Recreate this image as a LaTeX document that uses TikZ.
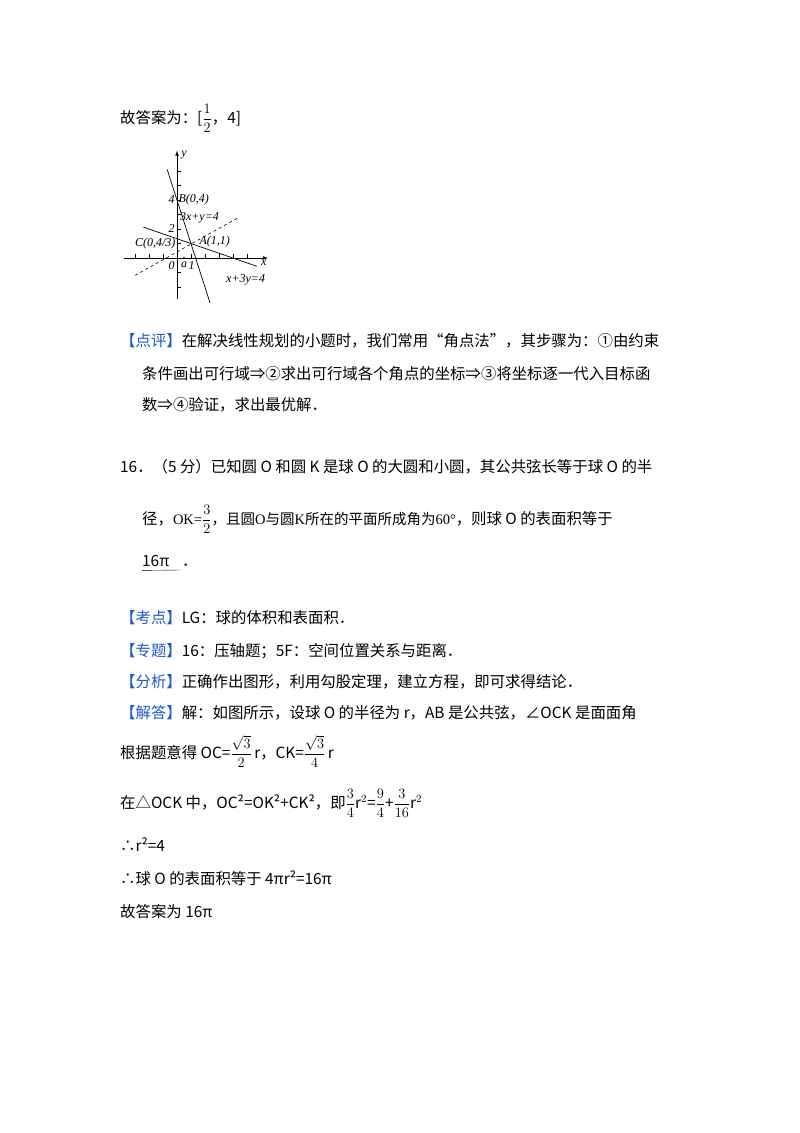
\documentclass[tikz,border=0pt]{standalone}
\usepackage{fontspec}
\setmainfont{Noto Sans CJK SC}
\newfontfamily\tms{Liberation Serif}
\usetikzlibrary{arrows.meta}
\definecolor{bl}{RGB}{30,90,200}
\newcommand{\bk}[1]{\textcolor{bl}{【#1】}}
\newcommand{\df}[2]{$\displaystyle\frac{#1}{#2}$}
\begin{document}
\begin{tikzpicture}[x=1pt,y=-1pt,
  tx/.style={anchor=base west,inner sep=0pt,font=\fontsize{15.4}{18}\selectfont},
  gl/.style={font=\tms\itshape\fontsize{12}{13}\selectfont,inner sep=0pt},
  ax/.style={line width=0.6pt}]
\useasboundingbox (0,0) rectangle (800,1133);
\fill[white] (0,0) rectangle (800,1133);
\node[tx] (t1) at (120,123) {故答案为：[\df{1}{2}，4]};
% graph
\begin{scope}[shift={(177,258)},x=14pt,y=14.5pt]
\draw[ax,-{Latex[length=5pt]}] (-3.8,0) -- (6.5,0) coordinate (xe);
\draw[ax,-{Latex[length=5pt]}] (0,-2.8) -- (0,7.4) coordinate (ye);
\foreach \i in {-3,...,5} \draw[ax] (\i,0) -- (\i,0.25);
\foreach \j in {-2,...,6} \draw[ax] (0,\j) -- (0.25,\j);
\draw[line width=0.7pt] (-0.7,6.1) -- (2.36,-3.1);
\draw[line width=0.7pt] (-2.4,2.13) -- (5.7,-0.57);
\draw[dashed,line width=0.6pt] (-3,-1.2) -- (4.4,2.8);
\fill (0.5,0) circle (1.2pt);
\node[gl,anchor=west] (ylab) at (0.3,7.1) {y};
\node[gl,anchor=north] (xlab) at (6.2,-0.1) {x};
\node[gl,anchor=east] (l4) at (-0.15,4) {4};
\node[gl,anchor=east] (l2) at (-0.15,2) {2};
\node[gl,anchor=north east] (l0) at (-0.15,-0.25) {0};
\node[gl,anchor=north] (la) at (0.5,-0.25) {a};
\node[gl,anchor=north] (l1) at (1.05,-0.25) {1};
\node[gl,anchor=west] (B) at (0.1,4) {B(0,4)};
\node[gl,anchor=west] (e1) at (0.2,2.75) {3x+y=4};
\node[gl,anchor=east] (C) at (-0.1,1.0) {C(0,4/3)};
\node[gl,anchor=west] (A) at (1.6,1.1) {A(1,1)};
\node[gl,anchor=west] (e2) at (3.5,-1.5) {x+3y=4};
\end{scope}
\node[tx] (p1) at (120,346) {\bk{点评}在解决线性规划的小题时，我们常用“角点法”，其步骤为：①由约束};
\node[tx] (p2) at (142,379) {条件画出可行域⇒②求出可行域各个角点的坐标⇒③将坐标逐一代入目标函};
\node[tx] (p3) at (142,410) {数⇒④验证，求出最优解．};
\node[tx] (q1) at (120,472) {16．（5 分）已知圆 O 和圆 K 是球 O 的大圆和小圆，其公共弦长等于球 O 的半};
\node[tx] (q2) at (142,524) {径，{\fontsize{14.5}{16}\selectfont{\tms OK=}\df{3}{2}，且圆{\tms O}与圆{\tms K}所在的平面所成角为{\tms 60°}}，则球 O 的表面积等于};
\node[tx] (q3) at (142,566) {16π};
\draw (q3.south west) ++(0,4) -- (180,570);
\node[tx] at (182,566) {．};
\node[tx] (k1) at (120,623) {\bk{考点}LG：球的体积和表面积．};
\node[tx] (k2) at (120,656) {\bk{专题}16：压轴题；5F：空间位置关系与距离．};
\node[tx] (k3) at (120,687) {\bk{分析}正确作出图形，利用勾股定理，建立方程，即可求得结论．};
\node[tx] (k4) at (120,718) {\bk{解答}解：如图所示，设球 O 的半径为 r，AB 是公共弦，∠OCK 是面面角};
\node[tx] (s1) at (120,758) {根据题意得 OC=\df{\sqrt3}{2}$\,\mathrm{r}$，CK=\df{\sqrt3}{4}$\,\mathrm{r}$};
\node[tx] (s2) at (120,808) {在△OCK 中，OC²=OK²+CK²，即\df{3}{4}$\mathrm{r}^2$=\df{9}{4}+\df{3}{16}$\mathrm{r}^2$};
\node[tx] (s3) at (120,851) {∴r²=4};
\node[tx] (s4) at (120,884) {∴球 O 的表面积等于 4πr²=16π};
\node[tx] (s5) at (120,917) {故答案为 16π};
\end{tikzpicture}
\end{document}
